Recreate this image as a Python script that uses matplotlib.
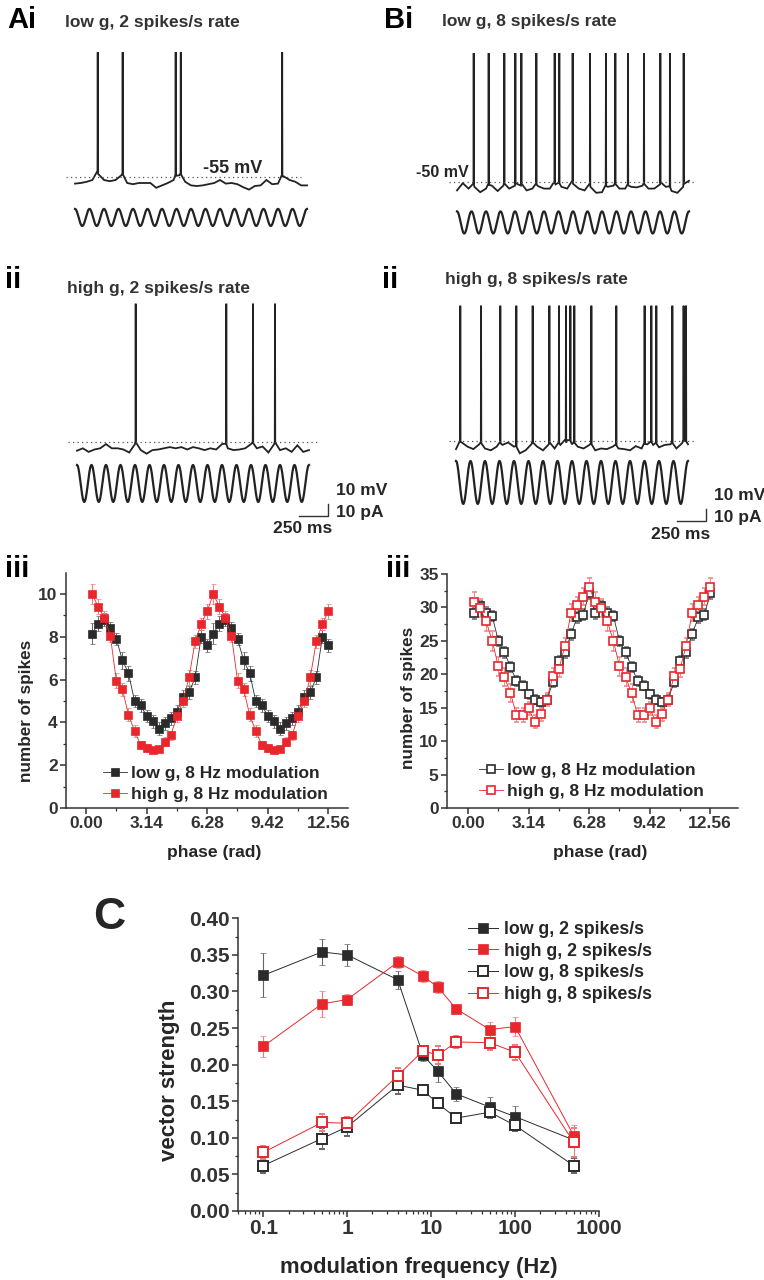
import numpy as np
import matplotlib
matplotlib.use('Agg')
import matplotlib.pyplot as plt

plt.rcParams['font.family'] = ['Liberation Sans', 'DejaVu Sans']
plt.rcParams['font.weight'] = 'bold'
plt.rcParams['axes.labelweight'] = 'bold'
plt.rcParams['text.color'] = '#262626'
plt.rcParams['axes.edgecolor'] = '#333333'
plt.rcParams['xtick.color'] = '#333333'
plt.rcParams['ytick.color'] = '#333333'

# ---- example traces (2 s, 8 Hz sinusoidal current) ----
mod_freq_hz = 8
trace_ms = 2000
base_step_ms = 50   # baseline read every 50 ms

# baseline membrane potential (mV)
ai_base = [-60.5, -60, -59, -57.5, -52.5, -57.5, -58.5, -57.5, -53.5, -60, -61, -60, -60, -60,
           -64, -62, -60, -57.5, -53.5, -59, -62, -62.5, -62, -61, -60, -57.5, -60.5, -60, -61,
           -63.5, -65.5, -62.5, -62, -57.5, -61, -60.5, -54.5, -57.5, -59, -62, -62]
bi_base = [-57, -51, -55.5, -54, -58.5, -55.5, -53, -57.5, -53, -55.5, -53, -53, -57, -55.5,
           -53.5, -55.5, -55.5, -52, -54, -55.5, -51.5, -55.5, -57, -54, -59, -58.5, -54, -53,
           -55.5, -55.5, -54, -54.5, -53, -55.5, -55.5, -52, -54, -57.5, -59, -54, -49]
aii_base = [-62.5, -60.5, -63.5, -61.5, -60.5, -57, -60.5, -60.5, -61.5, -64, -57, -62, -65, -62,
            -61.5, -60.5, -59.5, -60.5, -59.5, -61.5, -59.5, -60.5, -62, -60.5, -61.5, -57,
            -60.5, -62, -61.5, -60.5, -57, -60.5, -59, -64, -57, -62, -60.5, -63.5, -58, -63.5, -62]
bii_base = [-57, -51.5, -55, -57, -53, -56.5, -58, -55, -53.5, -51.5, -55, -60.5, -58, -53, -55,
            -58, -53, -56.5, -53.5, -51.5, -53, -55, -56.5, -53.5, -58, -56.5, -57, -55, -56.5,
            -57, -58, -54.5, -56.5, -53, -53.5, -55.5, -53.5, -53, -56.5, -52, -53]

# spike times (ms)
ai_spikes = [196, 411, 868, 912, 1786]
bi_spikes = [144, 273, 408, 503, 555, 684, 842, 882, 997, 1147, 1284, 1365, 1474, 1612, 1753,
             1836, 1954]
aii_spikes = [506, 1287, 1517, 1707]
bii_spikes = [37, 216, 382, 520, 661, 805, 888, 948, 986, 1020, 1167, 1382, 1626, 1684, 1727,
              1865, 1962, 1983]

spike_peak_mv = {'Ai': 49, 'Bi': 57.5, 'Aii': 60, 'Bii': 62.5}
rest_mv = {'Ai': -55, 'Bi': -50, 'Aii': -55, 'Bii': -50}
current_amp_pa = {'Ai': 7.1, 'Bi': 9.2, 'Aii': 15.4, 'Bii': 17.9}

# ---- phase histograms (one cycle, 20 bins; shown twice) ----
lo2_cycle = [8.15, 8.6, 8.8, 8.4, 7.9, 6.9, 6.3, 5.0, 4.8, 4.3, 4.05, 3.7, 3.95, 4.2, 4.5, 5.2,
             5.4, 6.1, 8.0, 7.6]
lo2_err = [0.5, 0.35, 0.3, 0.3, 0.3, 0.4, 0.35, 0.3, 0.3, 0.3, 0.3, 0.3, 0.3, 0.3, 0.3, 0.3,
           0.3, 0.3, 0.3, 0.3]
hi2_cycle = [10.0, 9.4, 8.9, 8.05, 5.95, 5.55, 4.35, 3.6, 2.95, 2.8, 2.7, 2.75, 3.1, 3.4, 4.3,
             5.0, 6.1, 7.8, 8.6, 9.2]
hi2_err = [0.45, 0.35, 0.3, 0.3, 0.35, 0.3, 0.3, 0.3, 0.2, 0.2, 0.15, 0.15, 0.2, 0.2, 0.3, 0.3,
           0.35, 0.3, 0.3, 0.35]
lo8_cycle = [29.1, 30.2, 29.2, 28.7, 25.0, 23.3, 21.1, 19.0, 18.3, 17.0, 16.2, 15.8, 16.2, 18.8,
             22.0, 23.3, 26.0, 28.5, 28.9, 32.1]
lo8_err = [0.8, 0.8, 0.8, 0.8, 0.8, 0.8, 0.8, 0.7, 0.7, 0.7, 0.7, 0.7, 0.7, 0.7, 0.8, 0.8, 0.8,
           0.8, 0.8, 0.8]
hi8_cycle = [30.8, 29.9, 27.9, 25.0, 21.2, 19.6, 17.2, 13.9, 13.9, 14.9, 12.9, 14.0, 16.2, 19.7,
             20.8, 24.3, 29.2, 30.3, 31.6, 33.0]
hi8_err = [1.5, 1.3, 1.5, 1.5, 1.4, 1.3, 1.3, 1.0, 1.0, 1.0, 1.0, 1.0, 1.0, 1.2, 1.2, 1.2, 1.3,
           1.3, 1.3, 1.4]
n_cycles = 2
phase = np.arange(1, 20 * n_cycles + 1) * np.pi / 10
phase_ticks = [0.0, 3.14, 6.28, 9.42, 12.56]

# ---- vector strength vs modulation frequency ----
freq_hz = [0.1, 0.5, 1, 4, 8, 12, 20, 50, 100, 500]
vs_lo2 = [0.322, 0.354, 0.350, 0.316, 0.213, 0.191, 0.160, 0.142, 0.129, 0.097]
vs_lo2_err = [0.030, 0.018, 0.015, 0.012, 0.008, 0.015, 0.010, 0.014, 0.015, 0.010]
vs_hi2 = [0.225, 0.283, 0.289, 0.340, 0.321, 0.306, 0.276, 0.248, 0.252, 0.103]
vs_hi2_err = [0.014, 0.018, 0.008, 0.008, 0.008, 0.008, 0.006, 0.010, 0.013, 0.014]
vs_lo8 = [0.062, 0.099, 0.115, 0.172, 0.165, 0.147, 0.127, 0.135, 0.117, 0.062]
vs_lo8_err = [0.010, 0.014, 0.012, 0.012, 0.006, 0.006, 0.005, 0.008, 0.008, 0.010]
vs_hi8 = [0.080, 0.121, 0.120, 0.185, 0.219, 0.213, 0.231, 0.230, 0.217, 0.094]
vs_hi8_err = [0.009, 0.012, 0.008, 0.010, 0.006, 0.012, 0.008, 0.010, 0.010, 0.020]

BLACK = '#2b2b2b'
RED = '#e8272d'

W, H = 764, 1280
fig = plt.figure(figsize=(W / 100, H / 100), dpi=100)


def px_axes(left, top, right, bottom):
    return fig.add_axes([left / W, 1 - bottom / H, (right - left) / W, (bottom - top) / H])


MS_PER_PX = 2000 / 232
PX_PER_MV = 1.2


def trace_axes(x0, ydot, vdot, box):
    left, top, right, bottom = box
    ax = px_axes(left, top, right, bottom)
    ax.set_xlim((left - x0) * MS_PER_PX, (right - x0) * MS_PER_PX)
    ax.set_ylim(vdot - (bottom - ydot) / PX_PER_MV, vdot + (ydot - top) / PX_PER_MV)
    ax.axis('off')
    return ax


def draw_trace(ax, key, baseline, spikes, cur_offset, dot_span):
    base_t = np.arange(len(baseline)) * base_step_ms
    t = list(base_t)
    v = list(baseline)
    for s in spikes:
        vb = np.interp(s, base_t, baseline)
        t += [s - 2, s, s + 2]
        v += [vb + 3, spike_peak_mv[key], vb + 2]
    order = np.argsort(t)
    ax.plot(np.array(t)[order], np.array(v)[order], color='#222222', lw=1.3,
            solid_joinstyle='miter')
    vdot = rest_mv[key]
    ax.plot(dot_span, [vdot, vdot], color='#555555', lw=0.9, ls=(0, (1, 2.6)))
    tc = np.linspace(0, trace_ms, 1200)
    cur = vdot - cur_offset + current_amp_pa[key] * np.cos(2 * np.pi * mod_freq_hz * tc / 1000)
    ax.plot(tc, cur, color='#222222', lw=1.6)


def scale_bar(ax, t_end, v_bottom):
    ax.plot([t_end - 250, t_end, t_end], [v_bottom, v_bottom, v_bottom + 10],
            color='#333333', lw=1.0)
    ax.text(t_end + 65, v_bottom + 21, '10 mV', fontsize=12.5, ha='left', va='center')
    ax.text(t_end + 65, v_bottom + 3, '10 pA', fontsize=12.5, ha='left', va='center')
    ax.text(t_end - 215, v_bottom - 11, '250 ms', fontsize=12.5, ha='center', va='center')


ax_ai = trace_axes(75, 177, rest_mv['Ai'], (55, 35, 340, 240))
draw_trace(ax_ai, 'Ai', ai_base, ai_spikes, 33.7, [-78, 1952])
ax_ai.text(1103, -48.3, '-55 mV', fontsize=13, ha='left', va='center')

ax_bi = trace_axes(457, 182, rest_mv['Bi'], (405, 35, 740, 245))
draw_trace(ax_bi, 'Bi', bi_base, bi_spikes, 33.7, [-69, 2052])
ax_bi.text(103, -42, '-50 mV', fontsize=11.5, ha='right', va='center')

ax_aii = trace_axes(77, 441.7, rest_mv['Aii'], (55, 295, 400, 545))
draw_trace(ax_aii, 'Aii', aii_base, aii_spikes, 34.8, [-78, 2069])
scale_bar(ax_aii, 2164, -116.7)

ax_bii = trace_axes(456, 440.7, rest_mv['Bii'], (405, 295, 764, 545))
draw_trace(ax_bii, 'Bii', bii_base, bii_spikes, 34.8, [-63, 2060])
scale_bar(ax_bii, 2155, -116.9)

# panel letters and titles
for label, x, y in [('Ai', 7, 28), ('Bi', 384, 28), ('ii', 5, 288), ('ii', 382, 288),
                    ('iii', 5, 577), ('iii', 386, 577)]:
    fig.text(x / W, 1 - y / H, label, fontsize=21, fontweight='bold', color='black',
             va='baseline')
fig.text(93 / W, 1 - 929 / H, 'C', fontsize=32, fontweight='bold', color='#262626',
         va='baseline')
for title, x, y in [('low g, 2 spikes/s rate', 65, 27), ('low g, 8 spikes/s rate', 442, 26),
                    ('high g, 2 spikes/s rate', 67, 292.5), ('high g, 8 spikes/s rate', 445, 284)]:
    fig.text(x / W, 1 - y / H, title, fontsize=12.5, fontweight='bold', color='#333333',
             va='baseline')


def style_axes(ax, fs):
    for side in ('top', 'right'):
        ax.spines[side].set_visible(False)
    for side in ('left', 'bottom'):
        ax.spines[side].set_linewidth(1.1)
    ax.tick_params(which='major', direction='out', length=4, width=1.1, labelsize=fs, pad=2)
    ax.tick_params(which='minor', direction='out', length=2.2, width=0.9)


def phase_panel(box, xlim, ylim, yticks, ymin_step, series, open_marker, leg_xy, ylab_xy,
                xlab_xy):
    ax = px_axes(*box)
    for vals, errs, color, ecol, lab in series:
        y = vals * n_cycles
        e = errs * n_cycles
        face = 'white' if open_marker else color
        ax.errorbar(phase, y, yerr=e, color=color, lw=0.6, ecolor=ecol, elinewidth=0.7,
                    capsize=1.8, capthick=0.7, marker='s', ms=5.8 if open_marker else 5.6,
                    mfc=face, mec=color, mew=1.2 if open_marker else 0.5, label=lab)
    ax.set_xlim(*xlim)
    ax.set_ylim(*ylim)
    ax.set_xticks(phase_ticks)
    ax.set_xticklabels(['%.2f' % p for p in phase_ticks])
    ax.set_xticks([1.57, 4.71, 7.85, 10.99], minor=True)
    ax.set_yticks(yticks)
    ax.set_yticks(np.arange(ymin_step, ylim[1], ymin_step * 2), minor=True)
    style_axes(ax, 12.5)
    handles, labels = ax.get_legend_handles_labels()
    handles = [h[0] for h in handles]
    ax.legend(handles, labels, loc='center left', bbox_to_anchor=leg_xy, frameon=False,
              fontsize=12.5, handlelength=1.4, handletextpad=0.2, labelspacing=0.32,
              borderpad=0, borderaxespad=0, numpoints=1)
    fig.text(ylab_xy[0] / W, 1 - ylab_xy[1] / H, 'number of spikes', rotation=90,
             fontsize=12.3, fontweight='bold', ha='center', va='center')
    fig.text(xlab_xy[0] / W, 1 - xlab_xy[1] / H, 'phase (rad)', fontsize=12.6,
             fontweight='bold', ha='center', va='center')
    return ax


phase_panel((66, 572.6, 348, 808), (-1.04, 13.58), (0, 11), [0, 2, 4, 6, 8, 10], 1,
            [(lo2_cycle, lo2_err, BLACK, '#666666', 'low g, 8 Hz modulation'),
             (hi2_cycle, hi2_err, RED, '#ee7a7d', 'high g, 8 Hz modulation')],
            False, (0.131, 0.102), (27, 711), (214, 853))
phase_panel((447, 574, 738, 808), (-1.09, 14.0), (0, 35), [0, 5, 10, 15, 20, 25, 30, 35], 2.5,
            [(lo8_cycle, lo8_err, BLACK, '#777777', 'low g, 8 Hz modulation'),
             (hi8_cycle, hi8_err, RED, '#ee8a8d', 'high g, 8 Hz modulation')],
            True, (0.110, 0.115), (408.5, 698), (600, 853))

# panel C
axc = px_axes(238, 918.3, 599, 1211)
c_series = [(vs_lo2, vs_lo2_err, BLACK, '#666666', False, 'low g, 2 spikes/s'),
            (vs_hi2, vs_hi2_err, RED, '#ee7a7d', False, 'high g, 2 spikes/s'),
            (vs_lo8, vs_lo8_err, BLACK, '#666666', True, 'low g, 8 spikes/s'),
            (vs_hi8, vs_hi8_err, RED, '#ee7a7d', True, 'high g, 8 spikes/s')]
for vals, errs, color, ecol, is_open, lab in c_series:
    axc.errorbar(freq_hz, vals, yerr=errs, color=color, lw=0.7, ecolor=ecol, elinewidth=0.8,
                 capsize=2.5, capthick=0.8, marker='s', ms=6.8,
                 mfc='white' if is_open else color, mec=color, mew=1.4 if is_open else 0.5,
                 label=lab)
axc.set_xscale('log')
axc.set_xlim(0.05, 1000)
axc.set_ylim(0, 0.40)
axc.set_xticks([0.1, 1, 10, 100, 1000])
axc.set_xticklabels(['0.1', '1', '10', '100', '1000'])
axc.set_yticks(np.arange(0, 0.401, 0.05))
axc.set_yticklabels(['%.2f' % v for v in np.arange(0, 0.401, 0.05)])
axc.set_yticks(np.arange(0.025, 0.4, 0.05), minor=True)
style_axes(axc, 15)
hs, ls = axc.get_legend_handles_labels()
axc.legend([h[0] for h in hs], ls, loc='center left', bbox_to_anchor=(0.637, 0.851),
           frameon=False, fontsize=12.8, handlelength=1.7, handletextpad=0.35,
           labelspacing=0.26, borderpad=0, borderaxespad=0, numpoints=1)
fig.text(170 / W, 1 - 1080 / H, 'vector strength', rotation=90, fontsize=16,
         fontweight='bold', ha='center', va='center')
fig.text(418.5 / W, 1 - 1273 / H, 'modulation frequency (Hz)', fontsize=15.8,
         fontweight='bold', ha='center', va='baseline')

fig.savefig('out.png', dpi=100)
